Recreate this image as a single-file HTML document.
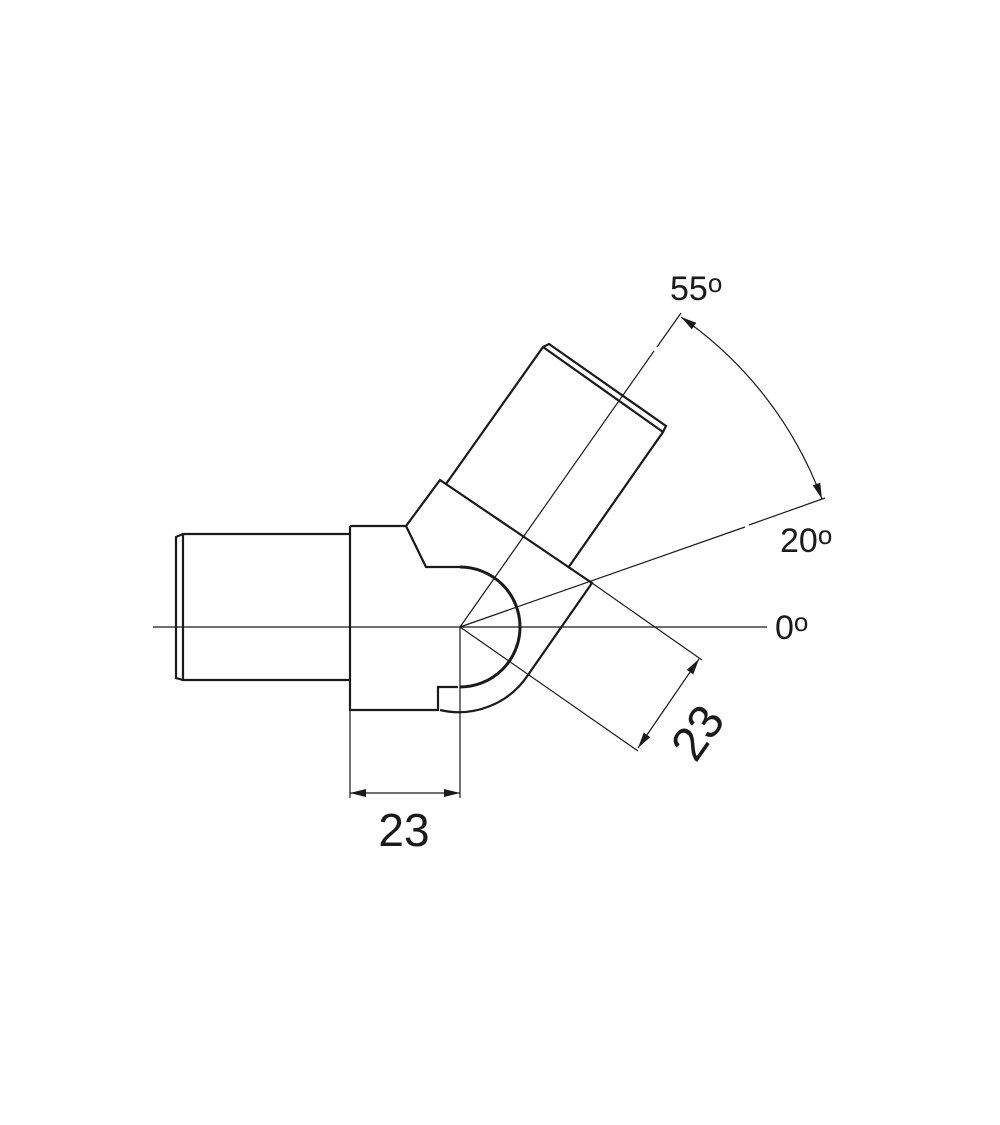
<!DOCTYPE html>
<html><head><style>body{margin:0;background:#fff}svg{display:block}</style></head>
<body>
<svg width="1000" height="1125" viewBox="0 0 1000 1125" xmlns="http://www.w3.org/2000/svg">
<defs>
<marker id="ar" viewBox="0 0 10 10" refX="10" refY="5" markerWidth="16" markerHeight="8" markerUnits="userSpaceOnUse" orient="auto-start-reverse" preserveAspectRatio="none"><path d="M0,0 L10,5 L0,10 z" fill="#1a1a1a"/></marker>
</defs>
<g fill="none" stroke="#1a1a1a" stroke-width="1.2">
<line x1="153" y1="627" x2="767" y2="627"/>
<line x1="460" y1="627" x2="654" y2="351"/>
<line x1="657" y1="347" x2="681" y2="313"/>
<line x1="460" y1="627" x2="745" y2="527"/>
<line x1="749" y1="525" x2="825" y2="498"/>
<line x1="592" y1="583" x2="702" y2="660"/>
<line x1="460" y1="627" x2="638" y2="751"/>
<line x1="699" y1="659" x2="638" y2="748" marker-start="url(#ar)" marker-end="url(#ar)"/>
<line x1="350" y1="710" x2="350" y2="798"/>
<line x1="460" y1="627" x2="460" y2="798"/>
<line x1="350" y1="793" x2="460" y2="793" marker-start="url(#ar)" marker-end="url(#ar)"/>
<path d="M681,317 A383,383 0 0 1 822,499" marker-start="url(#ar)" marker-end="url(#ar)"/>
</g>
<g fill="none" stroke="#1a1a1a" stroke-width="2.2" stroke-linejoin="miter">
<path d="M350,534 L183,534 L183,680 L350,680"/>
<path d="M183,534 L176,537 L176,678 L183,680"/>
<path d="M350,526 L350,710 L438,710 L438,687 L458,687"/>
<path d="M350,526 L406,526 L440,480 L592,583 L528,675 A83,83 0 0 1 440,710"/>
<path d="M406,526 L426,567 L460,567"/>
<path d="M460,567 A60,60 0 0 1 460,687" stroke-width="3"/>
<path d="M446,484 L543,347 L549,344 L666,426 L663,432 L568,568"/>
<line x1="543" y1="347" x2="663" y2="432"/>
</g>
<g font-family="Liberation Sans, sans-serif" fill="#1a1a1a">
<text x="670" y="300" font-size="34">55<tspan font-size="26" dy="-8">o</tspan></text>
<text x="780" y="552" font-size="34">20<tspan font-size="26" dy="-8">o</tspan></text>
<text x="775" y="639" font-size="34">0<tspan font-size="26" dy="-8">o</tspan></text>
<text x="404" y="846" font-size="46" text-anchor="middle">23</text>
<text x="0" y="0" font-size="48" text-anchor="middle" transform="translate(711,742) rotate(-55)">23</text>
</g>
</svg>
</body></html>
